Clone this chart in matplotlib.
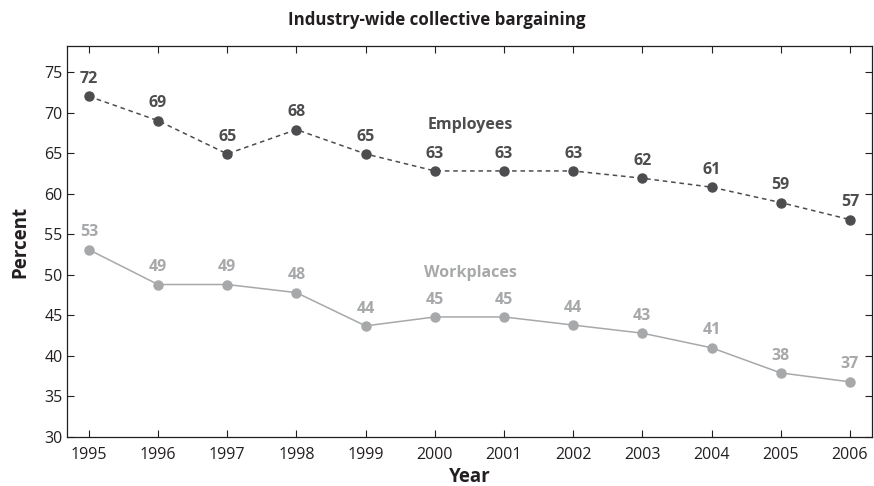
import matplotlib.pyplot as plt

years = [1995, 1996, 1997, 1998, 1999, 2000, 2001, 2002, 2003, 2004, 2005, 2006]
employees = [72.0, 69.0, 64.9, 67.9, 64.9, 62.8, 62.8, 62.8, 61.9, 60.8, 58.9, 56.8]
workplaces = [53.1, 48.8, 48.8, 47.8, 43.7, 44.8, 44.8, 43.8, 42.8, 41.0, 37.9, 36.8]
yticks = [30, 35, 40, 45, 50, 55, 60, 65, 70, 75]

dark = '#4d4d4f'
light = '#a7a8aa'
ink = '#231f20'

plt.rcParams['font.family'] = ['Open Sans', 'DejaVu Sans']

fig = plt.figure(figsize=(8.74, 4.86), dpi=100)
ax = fig.add_axes([0.0763, 0.1008, 0.9215, 0.8045])

ax.plot(years, employees, color=dark, linestyle=(0, (3, 2.5)), linewidth=1.1,
        marker='o', markersize=6.5, zorder=3)
ax.plot(years, workplaces, color=light, linestyle='-', linewidth=1.1,
        marker='o', markersize=6.5, zorder=3)

for x, y in zip(years, employees):
  ax.annotate(f'{round(y)}', (x, y), xytext=(0, 12.5), textcoords='offset points',
              ha='center', va='center', fontsize=11.5, fontweight='bold', color=dark)
for x, y in zip(years, workplaces):
  ax.annotate(f'{round(y)}', (x, y), xytext=(0, 12.5), textcoords='offset points',
              ha='center', va='center', fontsize=11.5, fontweight='bold', color=light)

ax.text(2000.52, 68.5, 'Employees', ha='center', va='center', fontsize=11.5,
        fontweight='bold', color=dark)
ax.text(2000.52, 50.2, 'Workplaces', ha='center', va='center', fontsize=11.5,
        fontweight='bold', color=light)

ax.set_xlim(1994.68, 2006.32)
ax.set_ylim(30, 78.2)
ax.set_xticks(years)
ax.set_yticks(yticks)
ax.tick_params(direction='in', top=True, right=True, labelsize=11.5,
               length=5, width=0.8, colors=ink)
ax.tick_params(axis='x', pad=7)
ax.tick_params(axis='y', pad=3)
for s in ax.spines.values():
  s.set_linewidth(0.9)
  s.set_color(ink)

fig.text(0.5, 0.958, 'Industry-wide collective bargaining', ha='center', va='center',
         fontsize=12.2, fontweight='bold', color=ink)
ax.set_xlabel('Year', fontsize=13.5, fontweight='bold', color=ink, labelpad=3)
ax.set_ylabel('Percent', fontsize=13.5, fontweight='bold', color=ink, labelpad=10)

fig.savefig('out.png', dpi=100)
